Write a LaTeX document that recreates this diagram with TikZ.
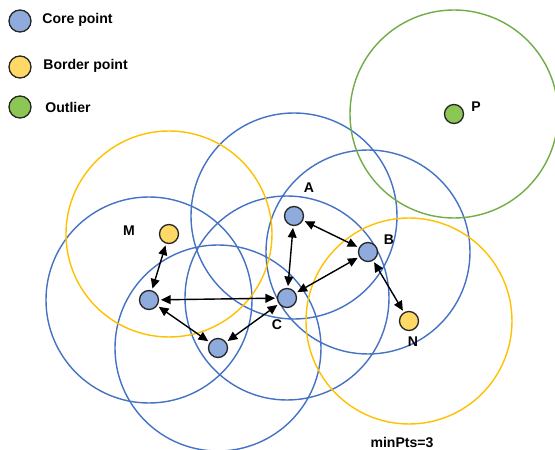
\documentclass[tikz,border=0pt]{standalone}
\usepackage{fontspec}
\setmainfont{Liberation Sans}
\usetikzlibrary{arrows.meta,positioning,backgrounds}

\definecolor{corefill}{HTML}{8FAADC}
\definecolor{coreline}{HTML}{4472C4}
\definecolor{borderfill}{HTML}{FFD966}
\definecolor{borderline}{HTML}{FFC000}
\definecolor{noisefill}{HTML}{8CC653}
\definecolor{noiseline}{HTML}{70AD47}

\begin{document}
\begin{tikzpicture}[
    every node/.style={font=\fontsize{8}{10}\selectfont\bfseries},
    dbpoint/.style={circle, draw=black!85, line width=0.75pt, minimum size=0.38cm, inner sep=0pt},
    corepoint/.style={dbpoint, fill=corefill},
    borderpoint/.style={dbpoint, fill=borderfill},
    noisepoint/.style={dbpoint, fill=noisefill},
    keypoint/.style={minimum size=0.44cm},
    keytext/.style={anchor=west, inner sep=0pt},
    corering/.style={draw=coreline, line width=0.8pt},
    borderring/.style={draw=borderline, line width=0.8pt},
    noisering/.style={draw=noiseline, line width=0.8pt},
    link/.style={{Triangle[length=5.5pt,width=5pt]}-{Triangle[length=5.5pt,width=5pt]},
        line width=0.8pt, shorten <=1pt, shorten >=1pt}]

\useasboundingbox (0,0) rectangle (11.1,9);

\node[corepoint, keypoint] (keycore) at (0.40,8.58) {};
\node[keytext] (keycoretext) at (0.84,8.60) {Core point};
\node[borderpoint, keypoint] (keyborder) at (0.40,7.66) {};
\node[keytext] (keybordertext) at (0.86,7.68) {Border point};
\node[noisepoint, keypoint] (keynoise) at (0.40,6.86) {};
\node[keytext] (keynoisetext) at (0.90,6.86) {Outlier};

\node[corepoint] (A) at (5.88,4.68) {};
\node[corepoint] (B) at (7.36,3.96) {};
\node[corepoint] (C) at (5.74,3.04) {};
\node[corepoint] (L) at (2.98,3.00) {};
\node[corepoint] (D) at (4.36,2.04) {};
\node[borderpoint] (M) at (3.38,4.32) {};
\node[borderpoint] (N) at (8.18,2.58) {};
\node[noisepoint] (P) at (9.08,6.72) {};

\node (labelA) at (6.18,5.24) {A};
\node (labelB) at (7.78,4.20) {B};
\node (labelC) at (5.54,2.50) {C};
\node (labelM) at (2.58,4.38) {M};
\node (labelN) at (8.26,2.16) {N};
\node (labelP) at (9.52,6.86) {P};
\node (minpts) at (8.04,0.16) {minPts=3};

\begin{scope}[on background layer]
    \draw[corering] (A) circle[radius=2.06cm];
    \draw[corering] (B) circle[radius=2.04cm];
    \draw[corering] (C) circle[radius=2.04cm];
    \draw[corering] (L) circle[radius=2.06cm];
    \draw[corering] (D) circle[radius=2.06cm];
    \draw[borderring] (M) circle[radius=2.06cm];
    \draw[borderring] (N) circle[radius=2.06cm];
    \draw[noisering] (P) circle[radius=2.08cm];
\end{scope}

\draw[link] (M) -- (L);
\draw[link] (L) -- (C);
\draw[link] (L) -- (D);
\draw[link] (D) -- (C);
\draw[link] (C) -- (A);
\draw[link] (C) -- (B);
\draw[link] (A) -- (B);
\draw[link] (B) -- (N);

\end{tikzpicture}
\end{document}
